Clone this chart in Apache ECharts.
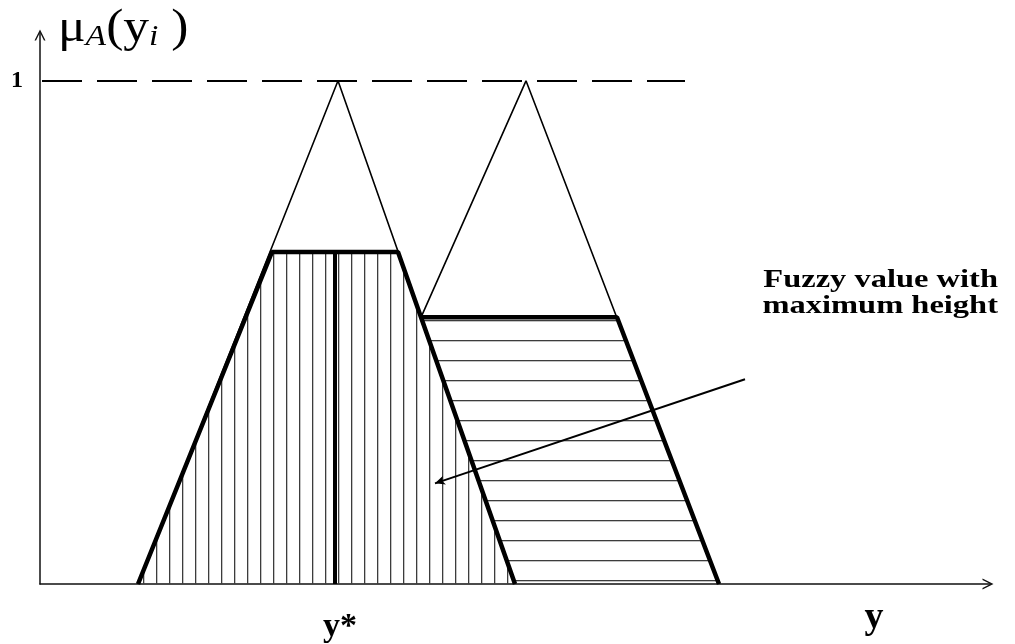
<!DOCTYPE html>
<html>

<head>
    <title>Fuzzy value with maximum height</title>
    <meta charset="utf-8">
    <script src="https://cdn.jsdelivr.net/npm/echarts@6/dist/echarts.min.js"></script>
</head>

<body style="margin:0">
    <div id="fuzzy" style="width: 1015px;height:644px;"></div>
    <script>
        // membership functions (x in axis units, y = membership)
        var tri1X = [9.8, 29.8, 47.5];
        var tri1Y = [0, 1, 0];
        var tri2X = [38.1, 48.6, 67.9];
        var tri2Y = [0.53, 1, 0];
        // clipped (cut) fuzzy sets
        var cut1X = [9.8, 23.2, 35.8, 47.5];
        var cut1Y = [0, 0.66, 0.66, 0];
        var cut2X = [47.5, 38.1, 57.7, 67.9];
        var cut2Y = [0, 0.53, 0.53, 0];
        var cut2EdgeX = [38.1, 57.7, 67.9];
        var cut2EdgeY = [0.53, 0.53, 0];
        // defuzzified value y*
        var yStar = 29.5;
        var yStarTop = 0.66;
        // annotation arrow (from, to)
        var arrowFrom = [70.5, 0.407];
        var arrowTo = [39.5, 0.2];
        var dashEnd = 64.5;
        var xLabelValues = [30.0, 83.4];
        var xLabelTexts = ['{a|y*}', '{b|y}'];

        function pts(xs, ys) {
            return xs.map(function (x, i) { return [x, ys[i]]; });
        }

        function stripes(vertical, gap) {
            var c = document.createElement('canvas');
            c.width = vertical ? gap : 4;
            c.height = vertical ? 4 : gap;
            var ctx = c.getContext('2d');
            ctx.fillStyle = '#3c3c3c';
            if (vertical) ctx.fillRect(0, 0, 1.3, 4);
            else ctx.fillRect(0, 0, 4, 1.3);
            return { image: c, repeat: 'repeat' };
        }

        var chevron = 'path://M0,10L5,0L10,10L8.6,10L5,2.8L1.4,10Z';
        var serif = '"Liberation Serif", "DejaVu Serif", serif';

        var myChart = echarts.init(document.getElementById('fuzzy'));
        var option = {
            animation: false,
            backgroundColor: '#fff',
            grid: { left: 40, right: 25, top: 33, bottom: 59 },
            xAxis: {
                type: 'value',
                min: 0,
                max: 95,
                splitLine: { show: false },
                axisTick: { show: false },
                axisLine: {
                    lineStyle: { color: '#111', width: 1.5 },
                    symbol: ['none', chevron],
                    symbolSize: [11, 12],
                    symbolOffset: [0, -2]
                },
                axisLabel: {
                    customValues: xLabelValues,
                    margin: 10,
                    formatter: function (v) {
                        var i = xLabelValues.indexOf(v);
                        return i >= 0 ? xLabelTexts[i] : '';
                    },
                    rich: {
                        a: { fontFamily: serif, fontWeight: 'bold', fontSize: 34, color: '#000', padding: [16, 0, 0, 0] },
                        b: { fontFamily: serif, fontWeight: 'bold', fontSize: 38, color: '#000', padding: [5, 0, 0, 0] }
                    }
                }
            },
            yAxis: {
                type: 'value',
                min: 0,
                max: 1.095,
                splitLine: { show: false },
                axisTick: { show: false },
                axisLine: {
                    lineStyle: { color: '#111', width: 1.5 },
                    symbol: ['none', chevron],
                    symbolSize: [11, 12],
                    symbolOffset: [0, -2]
                },
                axisLabel: {
                    customValues: [1],
                    margin: 17,
                    padding: [8, 0, 0, 0],
                    color: '#000',
                    fontFamily: serif,
                    fontWeight: 'bold',
                    fontSize: 24
                }
            },
            graphic: [
                {
                    type: 'text',
                    left: 58,
                    top: 6,
                    scaleX: 1.12,
                    style: {
                        text: '{m|μ}{s|A}{m|(y}{s|i}{m| )}',
                        rich: {
                            m: { fontFamily: serif, fontSize: 46, fill: '#000', lineHeight: 50, verticalAlign: 'bottom' },
                            s: { fontFamily: serif, fontSize: 30, fontStyle: 'italic', fill: '#000', lineHeight: 50, verticalAlign: 'bottom', padding: [0, 0, 0, 0] }
                        }
                    }
                },
                {
                    type: 'text',
                    right: 17,
                    top: 268,
                    scaleX: 1.3,
                    style: {
                        text: 'Fuzzy value with\nmaximum height',
                        textAlign: 'right',
                        fontFamily: serif,
                        fontWeight: 'bold',
                        fontSize: 25,
                        lineHeight: 26,
                        fill: '#000'
                    }
                }
            ],
            series: [
                {
                    type: 'line',
                    data: pts(cut1X, cut1Y),
                    symbol: 'none',
                    lineStyle: { width: 0 },
                    areaStyle: { color: stripes(true, 13), opacity: 1 }
                },
                {
                    type: 'line',
                    data: pts(cut2X, cut2Y),
                    symbol: 'none',
                    lineStyle: { width: 0 },
                    areaStyle: { color: stripes(false, 20), opacity: 1 }
                },
                {
                    type: 'line',
                    data: pts(tri1X, tri1Y),
                    symbol: 'none',
                    lineStyle: { color: '#000', width: 1.6 },
                    markLine: {
                        silent: true,
                        symbol: 'none',
                        label: { show: false },
                        lineStyle: { color: '#000', width: 2, type: [40, 15] },
                        data: [[{ coord: [0.2, 1] }, { coord: [dashEnd, 1] }]]
                    }
                },
                {
                    type: 'line',
                    data: pts(tri2X, tri2Y),
                    symbol: 'none',
                    lineStyle: { color: '#000', width: 1.6 }
                },
                {
                    type: 'line',
                    data: pts(cut1X, cut1Y),
                    symbol: 'none',
                    lineStyle: { color: '#000', width: 4.5 }
                },
                {
                    type: 'line',
                    data: pts(cut2EdgeX, cut2EdgeY),
                    symbol: 'none',
                    lineStyle: { color: '#000', width: 4.5 }
                },
                {
                    type: 'line',
                    data: [[yStar, 0], [yStar, yStarTop]],
                    symbol: 'none',
                    lineStyle: { color: '#000', width: 4 },
                    markLine: {
                        silent: true,
                        symbol: ['none', 'arrow'],
                        symbolSize: [7, 10],
                        label: { show: false },
                        lineStyle: { color: '#000', width: 2, type: 'solid' },
                        data: [[{ coord: arrowFrom }, { coord: arrowTo }]]
                    }
                }
            ]
        };
        myChart.setOption(option);
    </script>
</body>

</html>
